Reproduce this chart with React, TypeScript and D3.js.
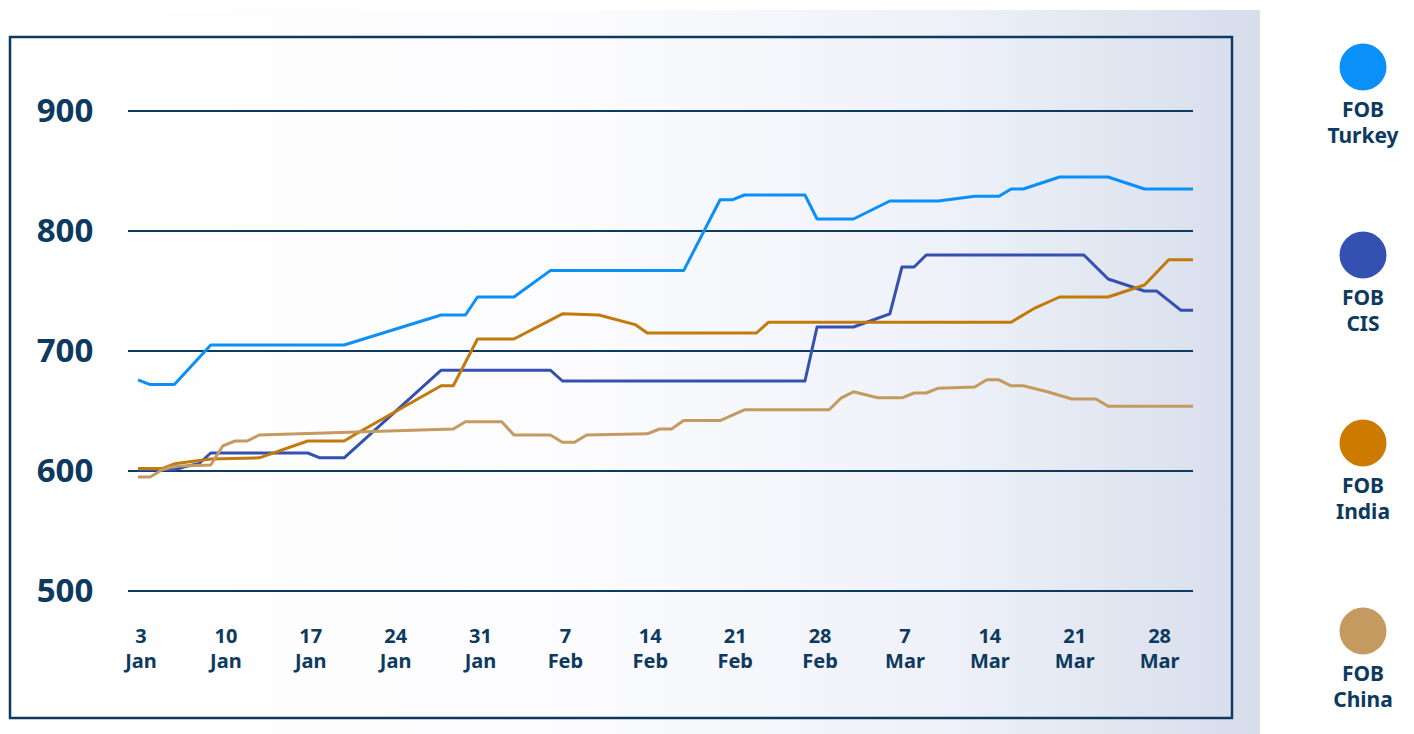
// App.tsx
// FOB price lines (Turkey, CIS, India, China), Jan–Mar, drawn with D3 scales
import React from "react";
import * as d3 from "d3";

type Point = [string, number];

const fobTurkey: Point[] = [
  ["2022-01-03", 676], ["2022-01-04", 672], ["2022-01-06", 672], ["2022-01-09", 705],
  ["2022-01-20", 705], ["2022-01-28", 730], ["2022-01-30", 730], ["2022-01-31", 745],
  ["2022-02-03", 745], ["2022-02-06", 767], ["2022-02-17", 767], ["2022-02-20", 826],
  ["2022-02-21", 826], ["2022-02-22", 830], ["2022-02-27", 830], ["2022-02-28", 810],
  ["2022-03-03", 810], ["2022-03-06", 825], ["2022-03-10", 825], ["2022-03-13", 829],
  ["2022-03-15", 829], ["2022-03-16", 835], ["2022-03-17", 835], ["2022-03-20", 845],
  ["2022-03-24", 845], ["2022-03-27", 835], ["2022-03-31", 835],
];

const fobCis: Point[] = [
  ["2022-01-03", 601], ["2022-01-06", 601], ["2022-01-07", 604], ["2022-01-08", 606],
  ["2022-01-09", 615], ["2022-01-17", 615], ["2022-01-18", 611], ["2022-01-20", 611],
  ["2022-01-28", 684], ["2022-02-06", 684], ["2022-02-07", 675], ["2022-02-27", 675],
  ["2022-02-28", 720], ["2022-03-03", 720], ["2022-03-06", 731], ["2022-03-07", 770],
  ["2022-03-08", 770], ["2022-03-09", 780], ["2022-03-22", 780], ["2022-03-24", 760],
  ["2022-03-27", 750], ["2022-03-28", 750], ["2022-03-29", 742], ["2022-03-30", 734],
  ["2022-03-31", 734],
];

const fobIndia: Point[] = [
  ["2022-01-03", 602], ["2022-01-05", 602], ["2022-01-06", 606], ["2022-01-09", 610],
  ["2022-01-13", 611], ["2022-01-17", 625], ["2022-01-20", 625], ["2022-01-21", 631],
  ["2022-01-28", 671], ["2022-01-29", 671], ["2022-01-31", 710], ["2022-02-03", 710],
  ["2022-02-07", 731], ["2022-02-10", 730], ["2022-02-13", 722], ["2022-02-14", 715],
  ["2022-02-23", 715], ["2022-02-24", 724], ["2022-03-16", 724], ["2022-03-18", 736],
  ["2022-03-20", 745], ["2022-03-24", 745], ["2022-03-27", 755], ["2022-03-29", 776],
  ["2022-03-31", 776],
];

const fobChina: Point[] = [
  ["2022-01-03", 595], ["2022-01-04", 595], ["2022-01-05", 601], ["2022-01-06", 604],
  ["2022-01-09", 605], ["2022-01-10", 621], ["2022-01-11", 625], ["2022-01-12", 625],
  ["2022-01-13", 630], ["2022-01-29", 635], ["2022-01-30", 641], ["2022-02-02", 641],
  ["2022-02-03", 630], ["2022-02-06", 630], ["2022-02-07", 624], ["2022-02-08", 624],
  ["2022-02-09", 630], ["2022-02-14", 631], ["2022-02-15", 635], ["2022-02-16", 635],
  ["2022-02-17", 642], ["2022-02-20", 642], ["2022-02-22", 651], ["2022-03-01", 651],
  ["2022-03-02", 661], ["2022-03-03", 666], ["2022-03-05", 661], ["2022-03-07", 661],
  ["2022-03-08", 665], ["2022-03-09", 665], ["2022-03-10", 669], ["2022-03-13", 670],
  ["2022-03-14", 676], ["2022-03-15", 676], ["2022-03-16", 671], ["2022-03-17", 671],
  ["2022-03-19", 666], ["2022-03-21", 660], ["2022-03-23", 660], ["2022-03-24", 654],
  ["2022-03-31", 654],
];

const seriesNames = ["FOB Turkey", "FOB CIS", "FOB India", "FOB China"];
const seriesColors = ["#0b8ff8", "#3451b2", "#c27a0c", "#c49a60"];
const legendColors = ["#0b8ff8", "#3451b2", "#cc7a00", "#c49a60"];
const yTicks = [500, 600, 700, 800, 900];
const xTickDates = [
  "2022-01-03", "2022-01-10", "2022-01-17", "2022-01-24", "2022-01-31",
  "2022-02-07", "2022-02-14", "2022-02-21", "2022-02-28",
  "2022-03-07", "2022-03-14", "2022-03-21", "2022-03-28",
];

const TEXT = "#0d3a5e";
const FONT = "'Noto Sans', 'Open Sans', sans-serif";

export default function App() {
  const parse = d3.timeParse("%Y-%m-%d");
  const x = d3.scaleTime()
    .domain([parse("2022-01-03") as Date, parse("2022-03-31") as Date])
    .range([138, 1193]);
  const y = d3.scaleLinear().domain([500, 900]).range([591, 111]);
  const line = d3.line<Point>()
    .x((d) => x(parse(d[0]) as Date))
    .y((d) => y(d[1]));
  const allSeries = [fobTurkey, fobCis, fobIndia, fobChina];
  const fmtDay = d3.timeFormat("%-d");
  const fmtMon = d3.timeFormat("%b");

  return (
    <div style={{ position: "absolute", left: 0, top: 0 }}>
      <svg width={1414} height={734} style={{ display: "block", fontFamily: FONT }}>
        <defs>
          <linearGradient id="bg" x1="0" x2="1" y1="0" y2="0">
            <stop offset="0%" stopColor="#ffffff" />
            <stop offset="45%" stopColor="#fcfcfe" />
            <stop offset="75%" stopColor="#eef1f8" />
            <stop offset="100%" stopColor="#d6ddeb" />
          </linearGradient>
        </defs>
        <rect x={0} y={0} width={1414} height={734} fill="#ffffff" />
        <rect x={0} y={10} width={1260} height={724} fill="url(#bg)" />
        <rect x={10} y={37} width={1222} height={681} fill="none" stroke={TEXT} strokeWidth={2.5} />

        {/* grid + y labels */}
        {yTicks.map((t) => (
          <g key={t}>
            <line x1={128} x2={1193} y1={y(t)} y2={y(t)} stroke={TEXT} strokeWidth={2} />
            <text x={65} y={y(t) + 11} textAnchor="middle" fontSize={33} fontWeight={700} fill={TEXT}>
              {t}
            </text>
          </g>
        ))}

        {/* x labels, two lines each */}
        {xTickDates.map((s) => {
          const d = parse(s) as Date;
          const cx = x(d) + 3;
          return (
            <g key={s} fontSize={20} fontWeight={700} fill={TEXT} textAnchor="middle">
              <text x={cx} y={643}>{fmtDay(d)}</text>
              <text x={cx} y={668}>{fmtMon(d)}</text>
            </g>
          );
        })}

        {/* lines */}
        {allSeries.map((s, i) => (
          <path key={seriesNames[i]} d={line(s) ?? ""} fill="none" stroke={seriesColors[i]}
            strokeWidth={3} strokeLinejoin="round" />
        ))}

        {/* legend */}
        {seriesNames.map((name, i) => {
          const cy = 67 + i * 188;
          const [l1, l2] = name.split(" ");
          return (
            <g key={name} fontSize={21} fontWeight={700} fill={TEXT} textAnchor="middle">
              <circle cx={1363} cy={cy} r={23.5} fill={legendColors[i]} />
              <text x={1363} y={cy + 50}>{l1}</text>
              <text x={1363} y={cy + 76}>{l2}</text>
            </g>
          );
        })}
      </svg>
    </div>
  );
}
